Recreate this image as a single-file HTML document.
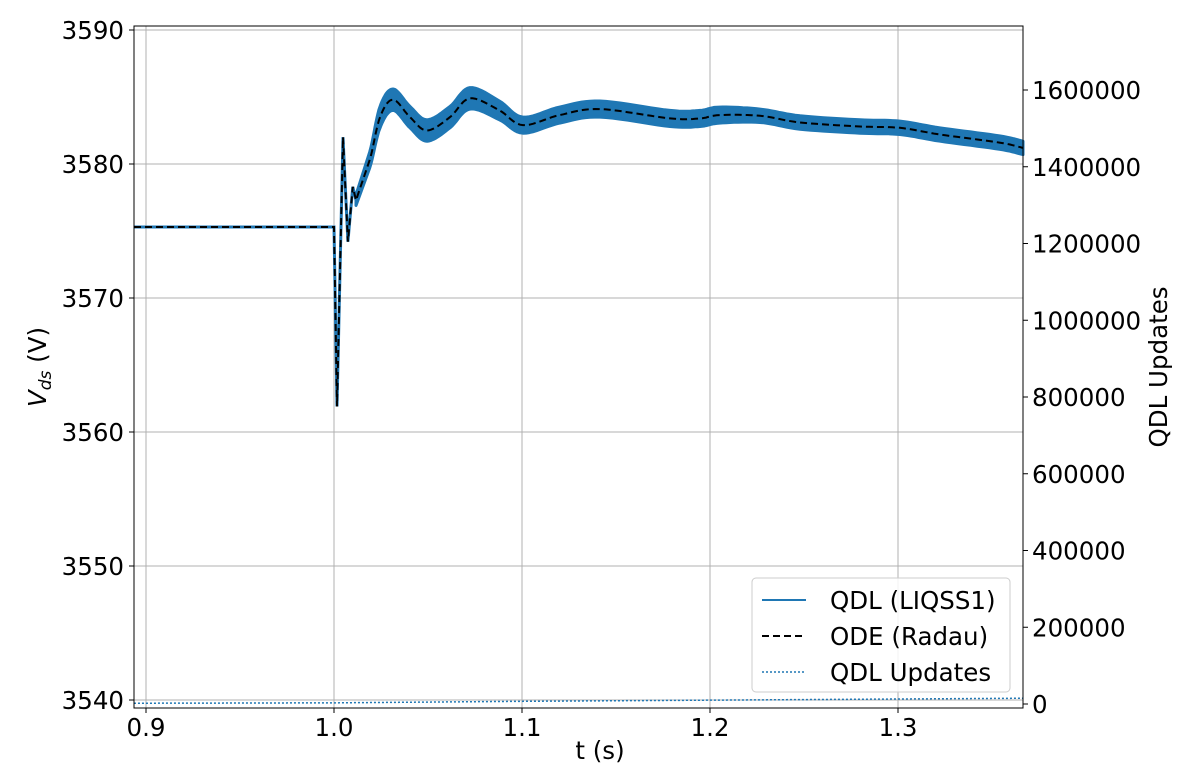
<!DOCTYPE html>
<html><head><meta charset="utf-8"><style>
body{margin:0;background:#fff;}
text{font-family:"DejaVu Sans","Liberation Sans",sans-serif;fill:#000;}
</style></head><body>
<svg id="chart" width="1200" height="766" xmlns="http://www.w3.org/2000/svg">
<g id="grid"></g><g id="series"></g><g id="axes"></g>
</svg>
<script>
const odeT=[0.8936,1.0,1.0016,1.0048,1.0074,1.010,1.0117,1.019,1.0245,1.0314,1.0404,1.0495,1.0617,1.0723,1.088,1.1005,1.12,1.1415,1.1787,1.1947,1.205,1.2266,1.2479,1.2798,1.301,1.3223,1.354,1.3665];
const odeV=[3575.3,3575.3,3561.9,3582.0,3574.2,3578.3,3577.3,3580.3,3583.5,3584.8,3583.5,3582.5,3583.5,3584.9,3584.0,3582.9,3583.65,3584.1,3583.4,3583.4,3583.65,3583.6,3583.1,3582.8,3582.7,3582.2,3581.6,3581.2];
const bandHalf=[0.1,0.1,0.2,0.2,0.2,0.3,0.4,0.6,0.8,0.8,0.8,0.8,0.8,0.8,0.7,0.6,0.6,0.6,0.6,0.6,0.6,0.5,0.5,0.5,0.5,0.5,0.5,0.5];
const updT=[0.8936,1.0,1.1,1.2,1.3,1.3665];
const updV=[2000,3000,7000,10000,13000,15000];
const xTicks=[0.9,1.0,1.1,1.2,1.3];
const xTickLabels=["0.9","1.0","1.1","1.2","1.3"];
const yTicks=[3540,3550,3560,3570,3580,3590];
const y2Ticks=[0,200000,400000,600000,800000,1000000,1200000,1400000,1600000];

const L=134,R=1023,T=26,B=708,FS=24.5;
const X=t=>146+(t-0.9)*1880;
const Y=v=>30+(3590-v)*13.4;
const Y2=u=>704-u/1600000*614;
const NS="http://www.w3.org/2000/svg";
function mk(tag,attrs,parent,txt){const e=document.createElementNS(NS,tag);for(const k in attrs)e.setAttribute(k,attrs[k]);if(txt!==undefined)e.textContent=txt;document.getElementById(parent).appendChild(e);return e;}
const SMOOTH_FROM=7;
function dense(pts){
  const out=[pts[0]];
  for(let i=1;i<pts.length;i++){
    const p1=pts[i-1],p2=pts[i];
    if(i<=SMOOTH_FROM){out.push(p2);continue;}
    const p0=pts[i-2],p3=pts[i+1]||p2;
    for(let s=1;s<=10;s++){const u=s/10,u2=u*u,u3=u2*u;
      const f=(a,b,c,d)=>0.5*((2*b)+(-a+c)*u+(2*a-5*b+4*c-d)*u2+(-a+3*b-3*c+d)*u3);
      out.push([f(p0[0],p1[0],p2[0],p3[0]),f(p0[1],p1[1],p2[1],p3[1])]);}
  }
  return out;
}
const str=a=>a.map(p=>p[0].toFixed(1)+','+p[1].toFixed(1)).join(' ');
xTicks.forEach(t=>{const l=mk('line',{x1:X(t),x2:X(t),y1:T,y2:B,stroke:'#b0b0b0','stroke-width':1},'grid');

});
yTicks.forEach(v=>{const l=mk('line',{x1:L,x2:R,y1:Y(v),y2:Y(v),stroke:'#b0b0b0','stroke-width':1},'grid');

});
const upP=dense(odeT.map((t,i)=>[X(t),Y(odeV[i]+bandHalf[i])]));
const loP=dense(odeT.map((t,i)=>[X(t),Y(odeV[i]-bandHalf[i])]));
const midP=dense(odeT.map((t,i)=>[X(t),Y(odeV[i])]));
const k0=SMOOTH_FROM-1;
const band=mk('polygon',{points:str(upP.slice(k0).concat(loP.slice(k0).reverse())),fill:'#1f77b4',stroke:'#1f77b4','stroke-width':3,'stroke-linejoin':'round'},'series');


const qdl=mk('polyline',{points:str(midP),fill:'none',stroke:'#1f77b4','stroke-width':3},'series');


const ode=mk('polyline',{points:str(midP),fill:'none',stroke:'#000','stroke-width':2,'stroke-dasharray':'7,4'},'series');


const upd=mk('polyline',{points:updT.map((t,i)=>X(t)+','+Y2(updV[i])).join(' '),fill:'none',stroke:'#1f77b4','stroke-width':1.5,'stroke-dasharray':'2,2'},'series');


const fr=mk('rect',{x:L,y:T,width:R-L,height:B-T,fill:'none',stroke:'#000','stroke-width':1},'axes');


xTicks.forEach((t,i)=>{mk('line',{x1:X(t),x2:X(t),y1:B,y2:B+5,stroke:'#000'},'axes');
const tx=mk('text',{x:X(t),y:B+28,'font-size':FS,'text-anchor':'middle'},'axes',xTickLabels[i]);

});
yTicks.forEach(v=>{mk('line',{x1:L-5,x2:L,y1:Y(v),y2:Y(v),stroke:'#000'},'axes');
const tx=mk('text',{x:L-10,y:Y(v)+9,'font-size':FS,'text-anchor':'end'},'axes',String(v));

});
y2Ticks.forEach(u=>{mk('line',{x1:R,x2:R+5,y1:Y2(u),y2:Y2(u),stroke:'#000'},'axes');
const tx=mk('text',{x:R+9,y:Y2(u)+9,'font-size':FS},'axes',String(u));

});
</script>
<svg style="position:absolute;left:0;top:0" width="1200" height="766" xmlns="http://www.w3.org/2000/svg">
<text x="600" y="759" font-size="24.5" text-anchor="middle">t (s)</text>
<text transform="translate(46,367) rotate(-90)" font-size="24.5" text-anchor="middle"><tspan font-style="italic">V</tspan><tspan font-size="17" dy="5" font-style="italic">ds</tspan><tspan dy="-5"> (V)</tspan></text>
<text transform="translate(1167,367) rotate(-90)" font-size="24.5" text-anchor="middle">QDL Updates</text>
<g>
<rect x="752" y="578" width="258" height="114" rx="4" fill="#fff" fill-opacity="0.85" stroke="#ccc"/>
<line x1="762" x2="806" y1="600" y2="600" stroke="#1f77b4" stroke-width="2"/>
<text x="830" y="609" font-size="24.5">QDL (LIQSS1)</text>
<line x1="762" x2="806" y1="636" y2="636" stroke="#000" stroke-width="2" stroke-dasharray="7,4"/>
<text x="830" y="645" font-size="24.5">ODE (Radau)</text>
<line x1="762" x2="806" y1="672" y2="672" stroke="#1f77b4" stroke-width="1.5" stroke-dasharray="2,2"/>
<text x="830" y="681" font-size="24.5">QDL Updates</text>
</g>
</svg>
</body></html>
